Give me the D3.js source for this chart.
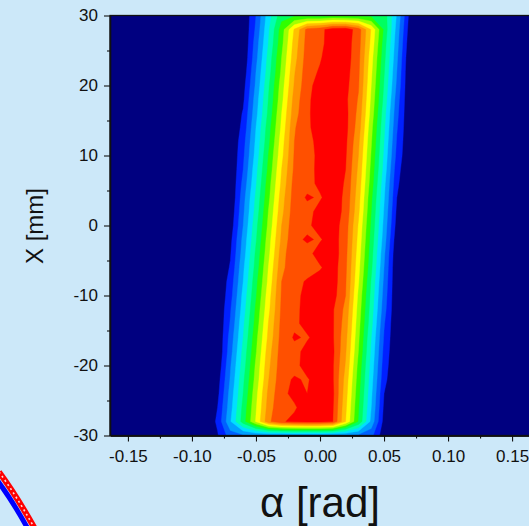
<!DOCTYPE html>
<html>
<head>
<meta charset="utf-8">
<script src="https://cdn.jsdelivr.net/npm/d3@7"></script>
<style>
  html, body { margin: 0; padding: 0; background: #cce8f9; }
  svg { display: block; }
  text { font-family: "Liberation Sans", Arial, sans-serif; fill: #111; }
</style>
</head>
<body>
<div id="chart"></div>
<script>
// grid columns: alpha [rad]
const alphaCols = [-0.10, -0.09, -0.08, -0.07, -0.06, -0.05, -0.04, -0.03, -0.02, -0.01,
                   0.00, 0.01, 0.02, 0.03, 0.04, 0.05, 0.06, 0.07, 0.08, 0.09];

// grid rows: X [mm], top to bottom
const xRows = [30, 28, 26, 24, 22, 20, 18, 16, 14, 12, 10, 8, 6, 4, 2, 0,
               -2, -4, -6, -8, -10, -12, -14, -16, -18, -20, -22, -24, -26, -28, -30];

// intensity (contour level units), one row per xRows entry
const intensity = [
  [0,0,0,0,0,2.0,4.6,6.6,6.8,6.7,6.6,6.8,6.7,6.7,6.7,6.6,3.9,0.7,0,0],
  [0,0,0,0,0,2.2,4.9,7.5,10.1,12.3,12.7,13.5,13.6,12.5,9.9,6.8,3.6,0.5,0,0],
  [0,0,0,0,0,2.5,5.1,7.7,10.4,12.4,12.7,13.6,13.5,12.4,9.7,6.5,3.4,0.3,0,0],
  [0,0,0,0,0.1,2.7,5.4,8.0,10.6,12.5,12.9,13.6,13.5,12.3,9.4,6.3,3.2,0.1,0,0],
  [0,0,0,0,0.3,3.0,5.6,8.2,10.9,12.6,13.1,13.5,13.4,12.2,9.2,6.1,3.0,0,0,0],
  [0,0,0,0,0.6,3.2,5.9,8.5,11.1,12.7,13.4,13.6,13.3,12.1,9.0,5.9,2.8,0,0,0],
  [0,0,0,0,0.8,3.5,6.1,8.7,11.4,12.8,13.5,13.6,13.2,11.9,8.8,5.7,2.5,0,0,0],
  [0,0,0,0,1.1,3.7,6.3,9.0,11.6,12.8,13.6,13.5,13.3,11.7,8.6,5.4,2.3,0,0,0],
  [0,0,0,0,1.3,4.0,6.6,9.2,11.9,12.8,13.5,13.6,13.3,11.5,8.3,5.2,2.1,0,0,0],
  [0,0,0,0,1.6,4.2,6.8,9.5,12.0,12.7,13.3,13.6,13.2,11.2,8.1,5.0,1.9,0,0,0],
  [0,0,0,0,1.8,4.4,7.1,9.7,12.1,12.7,13.2,13.6,13.1,11.0,7.9,4.8,1.7,0,0,0],
  [0,0,0,0,2.0,4.7,7.3,10.0,12.2,12.6,13.3,13.5,13.0,10.8,7.7,4.6,1.4,0,0,0],
  [0,0,0,0,2.3,4.9,7.6,10.2,12.4,12.7,13.2,13.5,12.9,10.6,7.5,4.3,1.2,0,0,0],
  [0,0,0,0,2.6,5.2,7.8,10.5,12.5,13.1,12.9,13.5,12.8,10.4,7.2,4.1,1.0,0,0,0],
  [0,0,0,0.2,2.8,5.4,8.1,10.7,12.6,12.7,13.3,13.6,12.7,10.2,7.0,3.9,0.8,0,0,0],
  [0,0,0,0.4,3.0,5.7,8.3,11.0,12.7,12.8,13.4,13.5,12.5,9.9,6.8,3.7,0.6,0,0,0],
  [0,0,0,0.7,3.3,5.9,8.6,11.2,12.8,13.1,12.9,13.5,12.4,9.7,6.6,3.5,0.3,0,0,0],
  [0,0,0,0.9,3.5,6.2,8.8,11.5,12.9,12.7,13.4,13.6,12.3,9.5,6.4,3.2,0.1,0,0,0],
  [0,0,0,1.1,3.8,6.4,9.1,11.7,12.8,12.6,12.9,13.5,12.2,9.3,6.2,3.0,0,0,0,0],
  [0,0,0,1.4,4.0,6.7,9.3,12.0,12.7,13.1,13.4,13.5,12.1,9.1,5.9,2.8,0,0,0,0],
  [0,0,0,1.6,4.3,6.9,9.6,12.1,12.7,13.3,13.5,13.4,12.0,8.8,5.7,2.6,0,0,0,0],
  [0,0,0,1.9,4.5,7.2,9.8,12.2,12.7,13.4,13.5,13.1,11.7,8.6,5.5,2.4,0,0,0,0],
  [0,0,0,2.1,4.8,7.4,10.1,12.3,12.8,13.3,13.5,13.1,11.5,8.4,5.3,2.1,0,0,0,0],
  [0,0,0,2.4,5.0,7.7,10.3,12.4,13.1,12.9,13.4,13.1,11.3,8.2,5.0,1.9,0,0,0,0],
  [0,0,0,2.6,5.3,7.9,10.6,12.5,12.7,13.3,13.5,13.2,11.1,8.0,4.8,1.7,0,0,0,0],
  [0,0,0.2,2.9,5.5,8.2,10.8,12.6,12.7,13.4,13.5,13.1,10.9,7.7,4.6,1.5,0,0,0,0],
  [0,0,0.5,3.1,5.8,8.4,11.0,12.7,13.1,12.9,13.5,13.1,10.6,7.5,4.4,1.3,0,0,0,0],
  [0,0,0.7,3.4,6.0,8.7,11.3,12.8,13.2,13.0,13.5,13.2,10.4,7.3,4.2,1.0,0,0,0,0],
  [0,0,1.0,3.6,6.3,8.9,11.5,12.9,12.9,13.4,13.5,13.1,10.2,7.1,4.0,0.8,0,0,0,0],
  [0,0,1.2,3.9,6.5,9.1,11.8,12.9,13.2,13.4,13.3,13.0,10.0,6.9,3.7,0.6,0,0,0,0],
  [0,0,0.9,2.5,2.8,2.9,2.9,2.8,2.9,2.8,2.9,2.8,2.8,2.7,2.3,0.3,0,0,0,0]
];

// contour thresholds and fill colours (index 0 = below first level)
const levels = [1, 2, 3, 4, 5, 6, 7, 8, 9, 10, 11, 12, 13];
const levelColors = ['#000080', '#0020ff', '#0060ff', '#00a0ff', '#00e0ff', '#00ffb0', '#00ff60',
                     '#30ff00', '#a0ff00', '#ffff00', '#ffc000', '#ff9000', '#ff5000', '#ff0000'];

// axis ticks
const xTicks = [-0.15, -0.10, -0.05, 0.00, 0.05, 0.10, 0.15];
const xMinor = [-0.125, -0.075, -0.025, 0.025, 0.075, 0.125];
const yTicks = [-30, -20, -10, 0, 10, 20, 30];
const yMinor = [-25, -15, -5, 5, 15, 25];

const width = 529, height = 526;
const plot = { left: 110, right: 530, top: 15.5, bottom: 435.5 };

const svg = d3.select('#chart').append('svg')
  .attr('width', width)
  .attr('height', height);

// leftover stroke of a neighbouring figure in the bottom-left corner
const deco = svg.append('g');
deco.append('path').attr('d', 'M-3,480 Q12,500 28,529')
  .attr('fill', 'none').attr('stroke', '#0000ff').attr('stroke-width', 5);
deco.append('path').attr('d', 'M-1,472 Q16,495 35,529')
  .attr('fill', 'none').attr('stroke', '#ff0000').attr('stroke-width', 6);
deco.append('path').attr('d', 'M-1,472 Q16,495 35,529')
  .attr('fill', 'none').attr('stroke', '#ffd8d8').attr('stroke-width', 1.6)
  .attr('stroke-dasharray', '2 3');

const x = d3.scaleLinear().domain([-0.164, 0.164]).range([plot.left, plot.right]);
const y = d3.scaleLinear().domain([-30, 30]).range([plot.bottom, plot.top]);

// clip everything to the plot frame
svg.append('clipPath').attr('id', 'clip')
  .append('rect')
  .attr('x', plot.left).attr('y', plot.top)
  .attr('width', plot.right - plot.left).attr('height', plot.bottom - plot.top);

const g = svg.append('g').attr('clip-path', 'url(#clip)');

g.append('rect')
  .attr('x', plot.left).attr('y', plot.top)
  .attr('width', plot.right - plot.left).attr('height', plot.bottom - plot.top)
  .attr('fill', levelColors[0]);

// filled contours from the grid
const nx = alphaCols.length, ny = xRows.length;
const dA = alphaCols[1] - alphaCols[0];
const dX = xRows[1] - xRows[0];

const contours = d3.contours()
  .size([nx, ny])
  .thresholds(levels)(intensity.flat());

const toScreen = d3.geoTransform({
  point: function (px, py) {
    this.stream.point(x(alphaCols[0] + (px - 0.5) * dA), y(xRows[0] + (py - 0.5) * dX));
  }
});
const path = d3.geoPath(toScreen);

g.selectAll('path.band')
  .data(contours)
  .join('path')
  .attr('class', 'band')
  .attr('d', path)
  .attr('fill', (d, i) => levelColors[i + 1])
  .attr('stroke', (d, i) => levelColors[i + 1])
  .attr('stroke-width', 0.4);

// frame
svg.append('rect')
  .attr('x', plot.left).attr('y', plot.top)
  .attr('width', plot.right - plot.left + 5).attr('height', plot.bottom - plot.top)
  .attr('fill', 'none').attr('stroke', '#111').attr('stroke-width', 1.3);

// x axis
svg.append('g').attr('transform', `translate(0,${plot.bottom})`)
  .call(d3.axisBottom(x).tickValues(xTicks).tickSize(6).tickSizeOuter(0).tickPadding(8)
    .tickFormat(d => d.toFixed(2)));
svg.append('g').attr('transform', `translate(0,${plot.bottom})`)
  .call(d3.axisBottom(x).tickValues(xMinor).tickSize(3).tickSizeOuter(0).tickFormat(''));

// y axis
svg.append('g').attr('transform', `translate(${plot.left},0)`)
  .call(d3.axisLeft(y).tickValues(yTicks).tickSize(6).tickSizeOuter(0).tickPadding(6)
    .tickFormat(d => d));
svg.append('g').attr('transform', `translate(${plot.left},0)`)
  .call(d3.axisLeft(y).tickValues(yMinor).tickSize(3).tickSizeOuter(0).tickFormat(''));

svg.selectAll('.domain').attr('stroke', '#111').attr('stroke-width', 1.3);
svg.selectAll('.tick line').attr('stroke', '#111').attr('stroke-width', 1.1);
svg.selectAll('.tick text')
  .attr('fill', '#111')
  .style('font-family', '"Liberation Sans", Arial, sans-serif')
  .style('font-size', '17px');

// axis titles
svg.append('text')
  .attr('transform', 'translate(43,226) rotate(-90)')
  .attr('text-anchor', 'middle')
  .style('font-size', '24px')
  .text('X [mm]');

svg.append('text')
  .attr('x', x(0))
  .attr('y', 516.7)
  .attr('text-anchor', 'middle')
  .style('font-size', '42px')
  .text('α [rad]');
</script>
</body>
</html>
